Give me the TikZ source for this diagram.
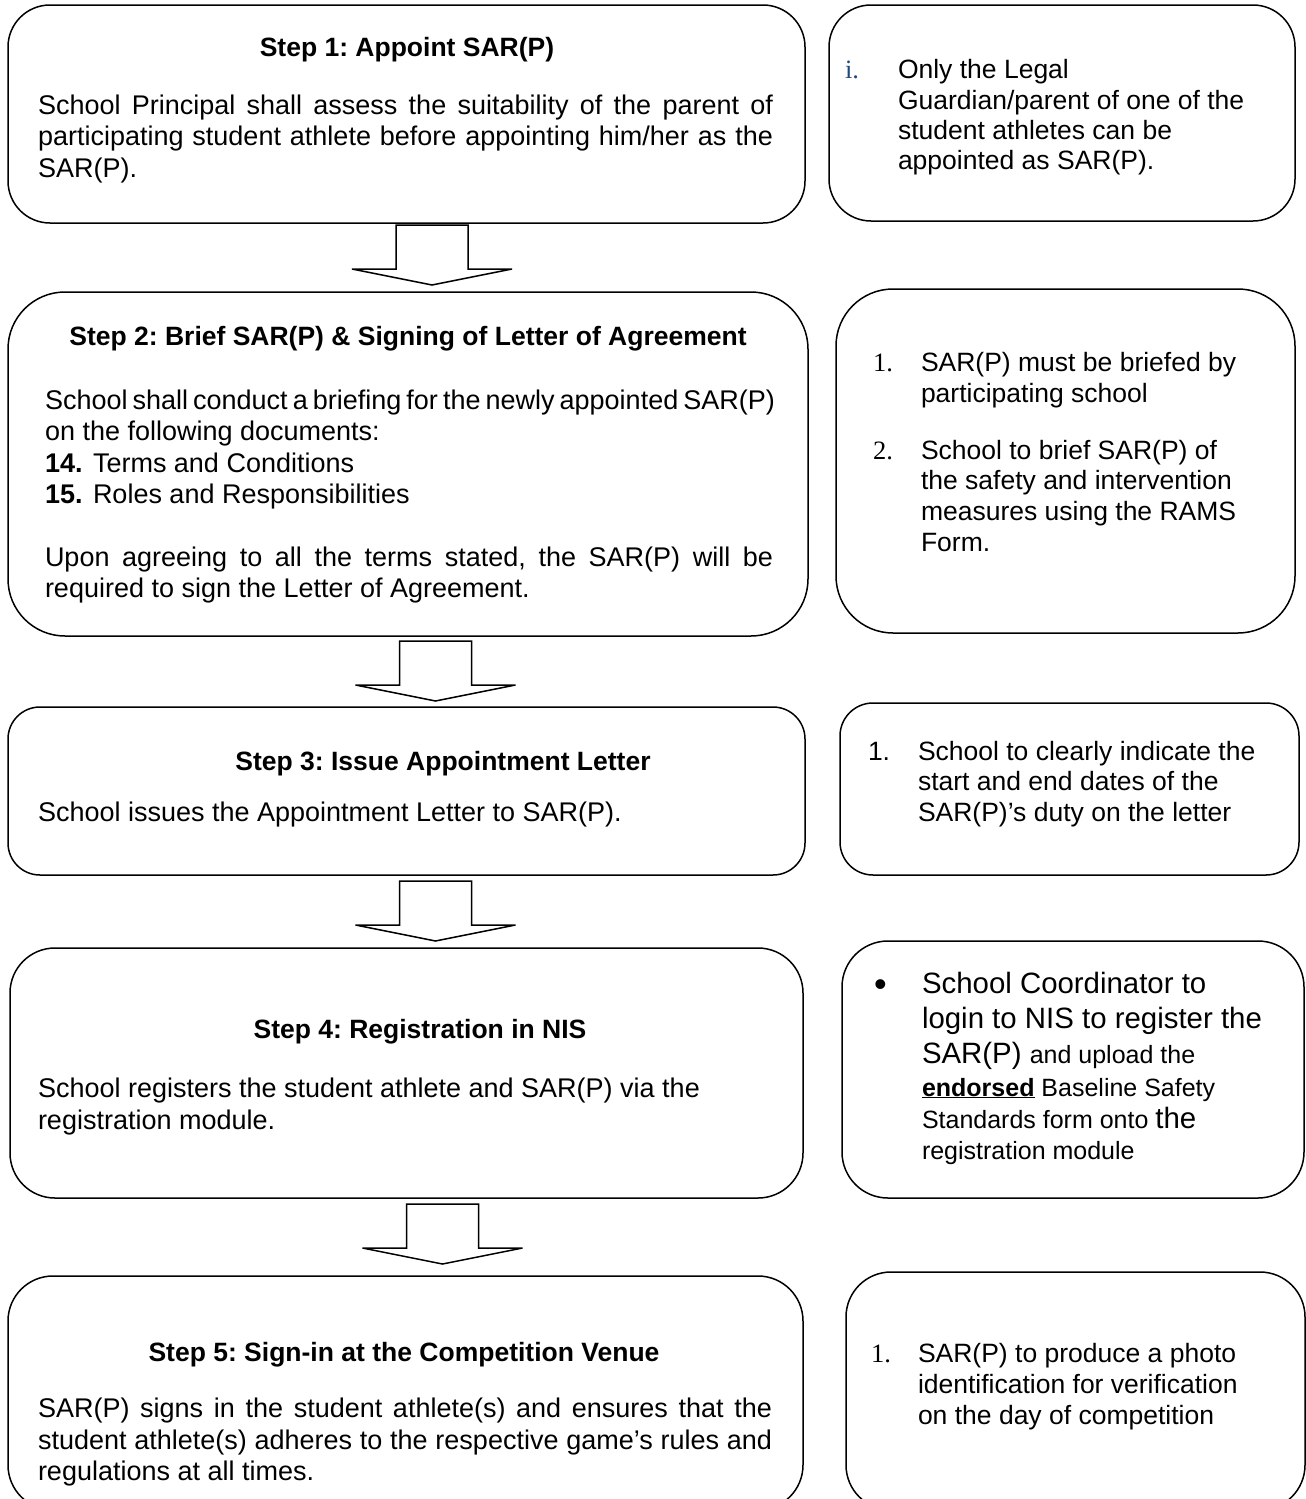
\documentclass[tikz,border=0pt]{standalone}
\usepackage{fontspec}
\setmainfont{Liberation Sans}
\newfontfamily\tnr{Liberation Serif}
\definecolor{numblue}{RGB}{31,73,125}
\newcommand\bodyf{\fontsize{27}{31.5}\selectfont}
\newcommand\headf{\fontsize{26.5}{31}\selectfont\bfseries}
\newcommand\sidef{\fontsize{26.5}{31}\selectfont}
\newcommand\bigsf{\fontsize{29.4}{34}\selectfont}
\newcommand\smallsf{\fontsize{25}{30}\selectfont}
\newcommand\jl[2]{\makebox[#1][s]{\spaceskip=0.278em plus 1em minus 0.15em\relax #2}}
\frenchspacing
\begin{document}
\frenchspacing
\begin{tikzpicture}[x=1pt,y=-1pt,
  box/.style={draw, line width=1.5pt, rectangle, inner sep=0pt, outer sep=0pt},
  txt/.style={anchor=base west, inner sep=0pt, outer sep=0pt, font=\bodyf},
  stxt/.style={anchor=base west, inner sep=0pt, outer sep=0pt, font=\sidef},
  head/.style={anchor=base, inner sep=0pt, outer sep=0pt, font=\headf},
  arrowline/.style={draw, line width=1.5pt, line join=miter, fill=white},
  pics/blockarrow/.style={code={
    \path[arrowline] (-36,0) -- (36,0) -- (36,44) -- (80,44) -- (0,60) -- (-80,44) -- (-36,44) -- cycle;}}]
\useasboundingbox (0,0) rectangle (1306,1499);

% step boxes
\node[box, minimum width=797, minimum height=218, rounded corners=42] (s1) at (406.5,114) {};
\node[box, minimum width=800, minimum height=344, rounded corners=57] (s2) at (408,464) {};
\node[box, minimum width=797, minimum height=168, rounded corners=32] (s3) at (406.5,791) {};
\node[box, minimum width=793, minimum height=250, rounded corners=45] (s4) at (406.5,1073) {};
\node[box, minimum width=795, minimum height=234, rounded corners=45] (s5) at (405.5,1393) {};

% note boxes
\node[box, minimum width=466, minimum height=216, rounded corners=42] (n1) at (1062,113) {};
\node[box, minimum width=459, minimum height=344, rounded corners=57] (n2) at (1065.5,461) {};
\node[box, minimum width=459, minimum height=172, rounded corners=33] (n3) at (1069.5,789) {};
\node[box, minimum width=462, minimum height=257, rounded corners=46] (n4) at (1073,1069.5) {};
\node[box, minimum width=459, minimum height=238, rounded corners=45] (n5) at (1075.5,1391) {};

% block arrows
\coordinate (a1) at (432,225);
\coordinate (a2) at (435.5,641);
\coordinate (a3) at (435.5,881);
\coordinate (a4) at (442.5,1204);
\pic at (a1) {blockarrow};
\pic at (a2) {blockarrow};
\pic at (a3) {blockarrow};
\pic at (a4) {blockarrow};

% step 1
\node[head] (h1) at (407,56) {Step 1: Appoint SAR(P)};
\node[txt] (b1a) at (38,114) {\jl{735pt}{School Principal shall assess the suitability of the parent of}};
\node[txt] (b1b) at (38,145.5) {\jl{735pt}{participating student athlete before appointing him/her as the}};
\node[txt] (b1c) at (38,177) {SAR(P).};

% step 2
\node[head] (h2) at (408,345) {Step 2: Brief SAR(P) \& Signing of Letter of Agreement};
\node[txt] (b2a) at (45,409) {\jl{730pt}{School shall conduct a briefing for the newly appointed SAR(P)}};
\node[txt] (b2b) at (45,440) {on the following documents:};
\node[txt] (b2c) at (45,472) {\textbf{14.}};
\node[txt] (b2cc) at (93,472) {Terms and Conditions};
\node[txt] (b2d) at (45,503) {\textbf{15.}};
\node[txt] (b2dd) at (93,503) {Roles and Responsibilities};
\node[txt] (b2e) at (45,566) {\jl{728pt}{Upon agreeing to all the terms stated, the SAR(P) will be}};
\node[txt] (b2f) at (45,597) {required to sign the Letter of Agreement.};

% step 3
\node[head] (h3) at (443,770) {Step 3: Issue Appointment Letter};
\node[txt] (b3a) at (38,821) {School issues the Appointment Letter to SAR(P).};

% step 4
\node[head] (h4) at (420,1038) {Step 4: Registration in NIS};
\node[txt] (b4a) at (38,1097) {School registers the student athlete and SAR(P) via the};
\node[txt] (b4b) at (38,1129) {registration module.};

% step 5
\node[head] (h5) at (404,1361) {Step 5: Sign-in at the Competition Venue};
\node[txt] (b5a) at (38,1417) {\jl{734pt}{SAR(P) signs in the student athlete(s) and ensures that the}};
\node[txt] (b5b) at (38,1449) {\jl{734pt}{student athlete(s) adheres to the respective game’s rules and}};
\node[txt] (b5c) at (38,1480) {regulations at all times.};

% note 1
\node[stxt, text=numblue] (m1) at (845,78) {\tnr i.};
\node[stxt] (t1a) at (898,78) {Only the Legal};
\node[stxt] (t1b) at (898,109) {Guardian/parent of one of the};
\node[stxt] (t1c) at (898,139) {student athletes can be};
\node[stxt] (t1d) at (898,169) {appointed as SAR(P).};

% note 2
\node[stxt] (m2a) at (873,371) {\tnr 1.};
\node[stxt] (t2a) at (921,371) {SAR(P) must be briefed by};
\node[stxt] (t2b) at (921,402) {participating school};
\node[stxt] (m2b) at (873,459) {\tnr 2.};
\node[stxt] (t2c) at (921,459) {School to brief SAR(P) of};
\node[stxt] (t2d) at (921,489) {the safety and intervention};
\node[stxt] (t2e) at (921,520) {measures using the RAMS};
\node[stxt] (t2f) at (921,551) {Form.};

% note 3
\node[stxt] (m3) at (868,760) {1.};
\node[stxt] (t3a) at (918,760) {School to clearly indicate the};
\node[stxt] (t3b) at (918,790) {start and end dates of the};
\node[stxt] (t3c) at (918,821) {SAR(P)’s duty on the letter};

% note 4
\node[stxt, font=\fontsize{36}{40}\selectfont] (m4) at (874,996) {•};
\node[stxt, font=\bigsf] (t4a) at (922,993) {School Coordinator to};
\node[stxt, font=\bigsf] (t4b) at (922,1028) {login to NIS to register the};
\node[stxt, font=\bigsf] (t4c) at (922,1063) {SAR(P) {\smallsf and upload the}};
\node[stxt, font=\smallsf] (t4d) at (922,1096) {\underline{\textbf{endorsed}} Baseline Safety};
\node[stxt, font=\smallsf] (t4e) at (922,1128) {Standards form onto {\bigsf the}};
\node[stxt, font=\smallsf] (t4f) at (922,1159) {registration module};

% note 5
\node[stxt] (m5) at (871,1362) {\tnr 1.};
\node[stxt] (t5a) at (918,1362) {SAR(P) to produce a photo};
\node[stxt] (t5b) at (918,1393) {identification for verification};
\node[stxt] (t5c) at (918,1424) {on the day of competition};
\end{tikzpicture}
\end{document}
